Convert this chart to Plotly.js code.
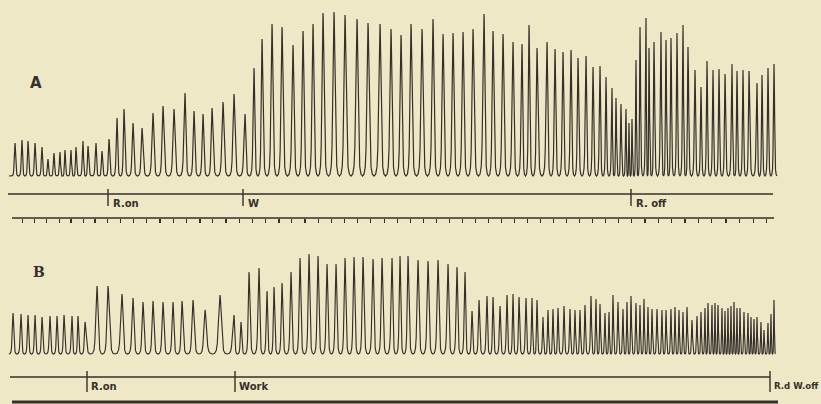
<!DOCTYPE html>
<html>
<head>
<meta charset="utf-8">
<script src="https://cdn.plot.ly/plotly-3.0.1.min.js"></script>
<style>
  html, body { margin: 0; padding: 0; background: #eee8c6; }
  #chart { width: 821px; height: 404px; }
</style>
</head>
<body>
<div id="chart"></div>
<script>
// Tracing A: drum position of each contraction peak and its height above the base line
const peakPosA = [15, 22, 28, 35, 42, 48, 54, 60, 65, 71, 76, 83, 88, 96, 102, 109, 117, 124, 133, 142,
  153, 163, 174, 185, 194, 203, 212, 223, 234, 245, 254, 262, 272, 282, 293, 303, 313, 323, 334, 345,
  357, 368, 380, 391, 401, 411, 422, 433, 443, 453, 463, 473, 484, 493, 503, 513, 522, 529, 537, 547,
  555, 563, 571, 578, 586, 593, 600, 606, 612, 616, 621, 626, 629, 632, 636, 640, 646, 649, 654, 661,
  666, 671, 677, 683, 688, 695, 701, 707, 713, 719, 725, 732, 737, 743, 749, 757, 762, 768, 774];
const peakHeightA = [33, 36, 35, 33, 29, 17, 23, 24, 26, 26, 29, 35, 30, 33, 25, 37, 58, 67, 53, 48,
  63, 70, 67, 83, 65, 62, 68, 74, 82, 62, 108, 137, 152, 149, 131, 145, 152, 163, 164, 161,
  157, 153, 152, 147, 141, 152, 147, 157, 142, 143, 144, 147, 162, 145, 142, 134, 132, 151, 128, 134,
  127, 124, 126, 118, 120, 109, 110, 99, 88, 78, 72, 67, 53, 57, 116, 149, 158, 128, 134, 144,
  136, 138, 143, 151, 129, 106, 89, 115, 106, 107, 102, 112, 105, 106, 105, 93, 101, 108, 112];

// Tracing B
const peakPosB = [13, 21, 28, 35, 42, 50, 57, 64, 72, 78, 85, 97, 108, 122, 133, 143, 153, 163, 173, 182,
  193, 205, 220, 234, 241, 249, 259, 267, 274, 282, 291, 300, 309, 318, 327, 336, 345, 354, 363, 373,
  382, 392, 400, 408, 418, 428, 438, 448, 457, 465, 472, 479, 487, 493, 500, 507, 513, 519, 526, 532,
  537, 543, 548, 553, 558, 564, 570, 575, 580, 585, 591, 596, 600, 605, 609, 613, 618, 623, 627, 631,
  636, 640, 644, 648, 652, 657, 662, 666, 671, 675, 679, 683, 687, 692, 697, 701, 705, 708, 712, 715,
  718, 722, 725, 728, 731, 734, 737, 740, 744, 748, 751, 754, 757, 761, 764, 768, 771, 774];
const peakHeightB = [41, 40, 39, 39, 37, 38, 38, 39, 38, 38, 32, 68, 68, 60, 56, 52, 53, 52, 52, 53,
  54, 44, 59, 39, 32, 82, 86, 63, 67, 71, 82, 96, 100, 98, 90, 90, 96, 97, 97, 95,
  96, 96, 98, 98, 94, 93, 94, 90, 87, 82, 43, 54, 58, 57, 48, 59, 60, 57, 56, 56,
  54, 37, 44, 45, 46, 48, 45, 44, 44, 49, 58, 55, 50, 41, 42, 59, 52, 45, 52, 58,
  51, 49, 55, 47, 45, 45, 44, 44, 45, 47, 44, 42, 47, 34, 38, 42, 46, 51, 49, 51,
  49, 46, 43, 46, 48, 52, 46, 46, 42, 41, 37, 35, 37, 32, 24, 31, 40, 54];

// Signal marks on the lines below each tracing
const eventPosA = [108, 243, 631];
const eventTextA = ['R.on', 'W', 'R. off'];
const eventPosB = [87, 235, 770];
const eventTextB = ['R.on', 'Work', 'R.d W.off'];

// Time marker ticks under tracing A
const timeMarksA = [22.7, 34.3, 46.7, 59.3, 71, 83.3, 95, 107.7, 120.7, 133.3, 146.7, 160, 173.3, 186.7,
  200, 212.7, 226, 239.3, 252.3, 265.7, 279, 291.7, 305, 318.3, 331.7, 344.3, 357.7, 370.7, 384.3, 397.3,
  410.5, 423.5, 436.5, 449.5, 462.5, 475.5, 488.5, 501.5, 514.5, 527.5, 540.5, 553.5, 566.5, 579.5, 592.5,
  605.5, 618.3, 631.7, 645, 658.3, 671.7, 685, 698.3, 711.7, 726, 739.3, 753.3, 766.7];

const INK = '#35302c';
const BG = '#eee8c6';

// Turn each peak into a narrow spike: near-vertical sides, rounded trough at the base
const PROFILE = [[1, 0], [0.72, 0.012], [0.5, 0.06], [0.36, 0.18], [0.24, 0.48], [0.12, 0.8], [0.04, 0.97], [0, 1]];
function spikes(pos, hgt, start) {
  const xs = [start], ys = [0];
  for (let i = 0; i < pos.length; i++) {
    const gl = i > 0 ? pos[i] - pos[i - 1] : pos[1] - pos[0];
    const gr = i < pos.length - 1 ? pos[i + 1] - pos[i] : gl;
    const wl = 0.5 * gl, wr = 0.5 * gr;
    for (let k = 0; k < PROFILE.length; k++) {
      xs.push(pos[i] - PROFILE[k][0] * wl); ys.push(PROFILE[k][1] * hgt[i]);
    }
    for (let k = PROFILE.length - 2; k >= 0; k--) {
      xs.push(pos[i] + PROFILE[k][0] * wr); ys.push(PROFILE[k][1] * hgt[i]);
    }
  }
  return { xs, ys };
}

const wA = spikes(peakPosA, peakHeightA, 9);
const wB = spikes(peakPosB, peakHeightB, 9);

function eventStrokes(pos, y0, y1) {
  const xs = [], ys = [];
  pos.forEach(p => { xs.push(p, p, null); ys.push(y0, y1, null); });
  return { xs, ys };
}
const sA = eventStrokes(eventPosA, -13, -30);
const sB = eventStrokes(eventPosB, -17, -38);

const traces = [
  { x: wA.xs, y: wA.ys, xaxis: 'x', yaxis: 'y', mode: 'lines',
    line: { color: INK, width: 1.2 }, hoverinfo: 'skip' },
  { x: wB.xs, y: wB.ys, xaxis: 'x', yaxis: 'y2', mode: 'lines',
    line: { color: INK, width: 1.15 }, hoverinfo: 'skip' },
  // signal lines
  { x: [8, 773], y: [-18, -18], xaxis: 'x', yaxis: 'y', mode: 'lines',
    line: { color: INK, width: 1.3 }, hoverinfo: 'skip' },
  { x: [10, 770], y: [-23, -23], xaxis: 'x', yaxis: 'y2', mode: 'lines',
    line: { color: INK, width: 1.3 }, hoverinfo: 'skip' },
  { x: sA.xs, y: sA.ys, xaxis: 'x', yaxis: 'y', mode: 'lines',
    line: { color: INK, width: 1.4 }, hoverinfo: 'skip' },
  { x: sB.xs, y: sB.ys, xaxis: 'x', yaxis: 'y2', mode: 'lines',
    line: { color: INK, width: 1.4 }, hoverinfo: 'skip' },
  // time line under A
  { x: [12, 774], y: [-42, -42], xaxis: 'x', yaxis: 'y', mode: 'lines',
    line: { color: INK, width: 1.5 }, hoverinfo: 'skip' },
  // bottom line under B
  { x: [12, 778], y: [-48, -48], xaxis: 'x', yaxis: 'y2', mode: 'lines',
    line: { color: INK, width: 3 }, hoverinfo: 'skip' },
  // carrier for the time-marker axis
  { x: [null], y: [null], xaxis: 'x2', yaxis: 'y', mode: 'lines', hoverinfo: 'skip' }
];

const labelFont = { family: 'DejaVu Sans', size: 10, color: INK };
const annotations = [];
eventPosA.forEach((p, i) => annotations.push({
  x: p + 3, y: -27, xref: 'x', yref: 'y', text: '<b>' + eventTextA[i] + '</b>',
  showarrow: false, xanchor: 'left', yanchor: 'middle', font: labelFont }));
eventPosB.forEach((p, i) => annotations.push({
  x: p + 2, y: -32, xref: 'x', yref: 'y2', text: '<b>' + eventTextB[i] + '</b>',
  showarrow: false, xanchor: 'left', yanchor: 'middle',
  font: i === 2 ? { family: 'DejaVu Sans', size: 8.6, color: INK } : labelFont }));
annotations.push({ x: 36, y: 93, xref: 'x', yref: 'y', text: '<b>A</b>', showarrow: false,
  font: { family: 'DejaVu Sans', size: 15, color: INK } });
annotations.push({ x: 39, y: 82, xref: 'x', yref: 'y2', text: '<b>B</b>', showarrow: false,
  font: { family: 'DejaVu Serif', size: 14, color: INK } });

const hidden = { showgrid: false, zeroline: false, showticklabels: false, ticks: '', showline: false, fixedrange: true };

const layout = {
  width: 821, height: 404,
  margin: { l: 0, r: 0, t: 0, b: 0, pad: 0 },
  paper_bgcolor: BG, plot_bgcolor: 'rgba(0,0,0,0)',
  showlegend: false,
  xaxis: Object.assign({ range: [0, 821], domain: [0, 1] }, hidden),
  xaxis2: { range: [0, 821], domain: [0, 1], anchor: 'free', position: 1 - 218 / 404,
    tickmode: 'array', tickvals: timeMarksA, ticks: 'outside', ticklen: 4, tickwidth: 1.3,
    tickcolor: INK, showticklabels: false, showgrid: false, zeroline: false, showline: false, fixedrange: true },
  yaxis: Object.assign({ range: [-56, 176], domain: [1 - 232 / 404, 1] }, hidden),
  yaxis2: Object.assign({ range: [-50, 118], domain: [0, 1 - 236 / 404] }, hidden),
  annotations: annotations
};

Plotly.newPlot('chart', traces, layout, { staticPlot: true, displayModeBar: false });
</script>
</body>
</html>
